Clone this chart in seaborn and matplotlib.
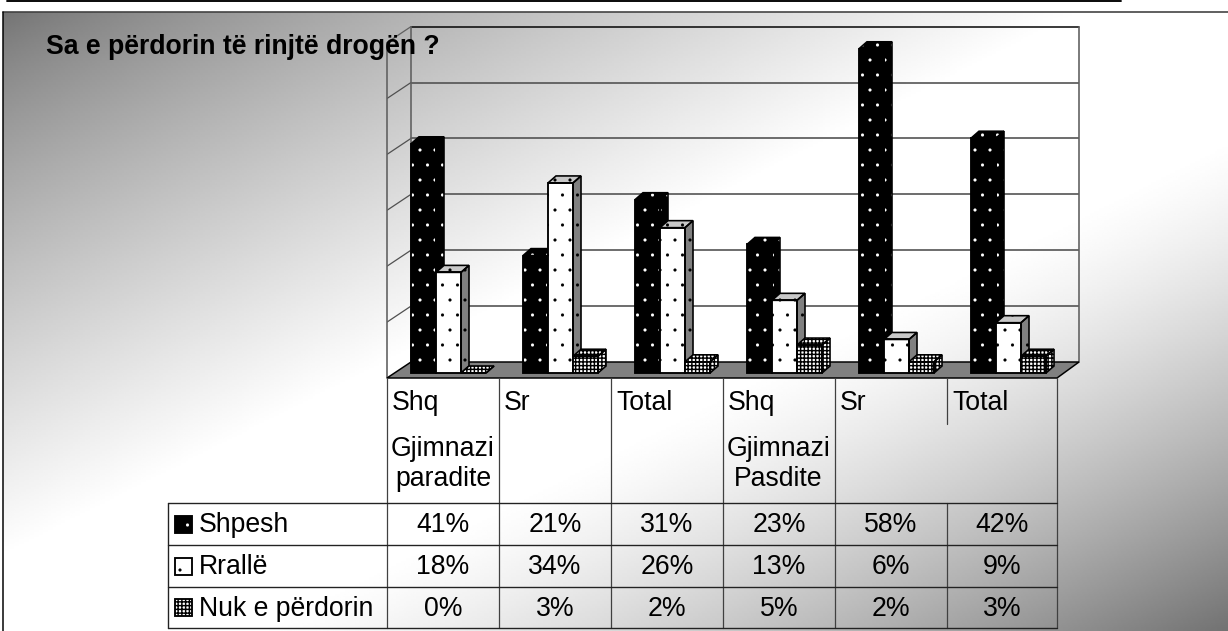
import numpy as np
import pandas as pd
import matplotlib
matplotlib.use("Agg")
import matplotlib.pyplot as plt
from matplotlib.patches import Polygon
import seaborn as sns

categories = ["Shq", "Sr", "Total", "Shq", "Sr", "Total"]
group_ids = ["Shq paradite", "Sr paradite", "Total paradite", "Shq pasdite", "Sr pasdite", "Total pasdite"]
series_names = ["Shpesh", "Rrallë", "Nuk e përdorin"]
shpesh = [41, 21, 31, 23, 58, 42]
rralle = [18, 34, 26, 13, 6, 9]
nuk = [0, 3, 2, 5, 2, 3]
title = "Sa e përdorin të rinjtë drogën ?"

sns.set_theme(style="white")
plt.rcParams["font.family"] = ["Liberation Sans", "DejaVu Sans"]

W, H, DPI = 1228, 631, 90
fig = plt.figure(figsize=(W / DPI, H / DPI), dpi=DPI)
fs = 21.3

# page background
bg = fig.add_axes([0, 0, 1, 1], zorder=0)
bg.axis("off")
xx, yy = np.meshgrid(np.linspace(0, 1, 500), np.linspace(0, 1, 260))
u = (xx + yy) / 2
shade = 0.45 + 0.55 * np.minimum(u / 0.44, 1) ** 0.8
shade = np.where(u > 0.6, 1 - 0.55 * ((u - 0.6) / 0.4) ** 1.3, shade)
bg.imshow(shade, cmap="gray", vmin=0, vmax=1, extent=[3, W, H, 12], aspect="auto", interpolation="bilinear")
bg.set_xlim(0, W); bg.set_ylim(H, 0)
bg.plot([7, 1121], [0.8, 0.8], color="black", lw=1.5)
bg.plot([3, W], [12, 12], color="#404040", lw=1.3)
bg.plot([3, 3], [12, H], color="black", lw=1.2)

# chart axes: pixel box 387..1079 by 27..378
PX_X = 112.0   # pixels per category
PX_Y = 5.59    # pixels per percentage point
ax = fig.add_axes([387 / W, 1 - 378 / H, (1079 - 387) / W, (378 - 27) / H], zorder=1)
ax.patch.set_alpha(0)
df = pd.DataFrame({
    "group": group_ids * 3,
    "series": np.repeat(series_names, 6),
    "value": shpesh + rralle + nuk,
})
sns.barplot(data=df, x="group", y="value", hue="series", order=group_ids, hue_order=series_names,
            palette=["black", "white", "white"], width=0.67, gap=0, dodge=True, legend=False,
            saturation=1, ax=ax)
x0 = -(448.5 - 387) / PX_X
ax.set_xlim(x0, x0 + (1079 - 387) / PX_X)
ax.set_ylim(-5 / PX_Y, (373 - 27) / PX_Y)
ax.axis("off")

# 3D frame, in data units
dx_back, dy_back = 24 / PX_X, 16 / PX_Y
xf0, xf1 = x0, x0 + (1057 - 387) / PX_X
yf = -5 / PX_Y
xb1 = xf1 + 22 / PX_X
for v in range(10, 60, 10):
    yv = yf + dy_back + v
    ax.plot([xf0 + dx_back, xb1], [yv, yv], color="#505050", lw=1.3, zorder=0.5)
    ax.plot([xf0, xf0 + dx_back], [yv - dy_back, yv], color="#505050", lw=1.0, zorder=0.5)
top = yf + dy_back + 60
ax.plot([xf0 + dx_back, xb1], [top, top], color="black", lw=1.2, clip_on=False, zorder=0.5)
ax.plot([xf0, xf0], [yf, top - dy_back], color="#606060", lw=1.3, clip_on=False, zorder=0.5)
ax.plot([xf0 + dx_back] * 2, [yf + dy_back, top], color="#606060", lw=1.3, clip_on=False, zorder=0.5)
ax.plot([xb1] * 2, [yf + dy_back, top], color="#606060", lw=1.3, clip_on=False, zorder=0.5)
ax.plot([xf0, xf0 + dx_back], [top - dy_back, top], color="#606060", lw=1.0, clip_on=False, zorder=0.5)
ax.add_patch(Polygon([(xf0, yf), (xf1, yf), (xb1, yf + dy_back), (xf0 + dx_back, yf + dy_back)],
                     closed=True, facecolor="#808080", edgecolor="black", lw=1.2, clip_on=False, zorder=0.8))

# extrude every seaborn bar
ddx, ddy = 8 / PX_X, 7 / PX_Y
styles = [
    dict(hatch=".", fg="white", face="black", top="black", side="black", hlw=0.1),
    dict(hatch=".", fg="black", face="white", top="#c8c8c8", side="#808080", hlw=0.1),
    dict(hatch="++++", fg="black", face="white", top="white", side="white", hlw=1.15),
]
bars = [b for b in ax.patches if isinstance(b, matplotlib.patches.Rectangle)]
for i, b in enumerate(bars):
    s = styles[i // 6]
    z = 2 + i // 6
    x, y, w, h = b.get_x(), 0, b.get_width(), b.get_height()
    b.set(hatch=s["hatch"], edgecolor=s["fg"], linewidth=0, zorder=z)
    b.set_hatch_linewidth(s["hlw"])
    side = [(x + w, y), (x + w + ddx, y + ddy), (x + w + ddx, y + h + ddy), (x + w, y + h)]
    topf = [(x, y + h), (x + ddx, y + h + ddy), (x + w + ddx, y + h + ddy), (x + w, y + h)]
    for pts, col in ((side, s["side"]), (topf, s["top"])):
        p = Polygon(pts, closed=True, facecolor=col, edgecolor=s["fg"], hatch=s["hatch"], lw=0, zorder=z)
        p.set_hatch_linewidth(s["hlw"])
        ax.add_patch(p)
        ax.add_patch(Polygon(pts, closed=True, fill=False, edgecolor="black", lw=1.3, zorder=z + 0.1))
    ax.add_patch(plt.Rectangle((x, y), w, h, fill=False, edgecolor="black", lw=1.5, zorder=z + 0.1))

# data table under the chart, pixel coords
ov = fig.add_axes([0, 0, 1, 1], zorder=2)
ov.set_xlim(0, W); ov.set_ylim(H, 0); ov.axis("off"); ov.patch.set_alpha(0)
col_x = [387, 499, 611, 723, 835, 947, 1057]
row_y = [503, 545, 587, 628]
for i, xc in enumerate(col_x):
    ov.plot([xc, xc], [378, 424 if i == 5 else row_y[-1]], color="#404040", lw=1.0)
ov.plot([947, 947], [503, 628], color="#404040", lw=1.0)
for r in row_y:
    ov.plot([168, 1057], [r, r], color="#222222", lw=1.1)
ov.plot([168, 168], [503, 628], color="#222222", lw=1.1)

for xc, c in zip(col_x, categories):
    ov.text(xc + 5, 403, c, fontsize=fs, va="center", ha="left", color="black")
ov.text(443, 464, "Gjimnazi\nparadite", fontsize=fs, va="center", ha="center", ma="center", linespacing=1.22, color="black")
ov.text(778, 464, "Gjimnazi\nPasdite", fontsize=fs, va="center", ha="center", ma="center", linespacing=1.22, color="black")
ov.text(46, 47, title, fontsize=fs, fontweight="bold", va="center", ha="left", color="black")

swatches = [("black", "white", ".", 0.1), ("white", "black", ".", 0.1), ("white", "black", "++++", 1.15)]
for r, (name, vals, sw) in enumerate(zip(series_names, (shpesh, rralle, nuk), swatches)):
    yc = (row_y[r] + row_y[r + 1]) / 2
    sp = plt.Rectangle((175, yc - 8.5), 17, 17, facecolor=sw[0], edgecolor=sw[1], hatch=sw[2], lw=0)
    sp.set_hatch_linewidth(sw[3])
    ov.add_patch(sp)
    ov.add_patch(plt.Rectangle((175, yc - 8.5), 17, 17, fill=False, edgecolor="black", lw=1.5))
    ov.text(199, yc + 1, name, fontsize=fs, va="center", ha="left", color="black")
    for c, v in enumerate(vals):
        ov.text((col_x[c] + col_x[c + 1]) / 2, yc + 1, f"{v}%", fontsize=fs, va="center", ha="center", color="black")

fig.savefig("out.png", dpi=DPI)
